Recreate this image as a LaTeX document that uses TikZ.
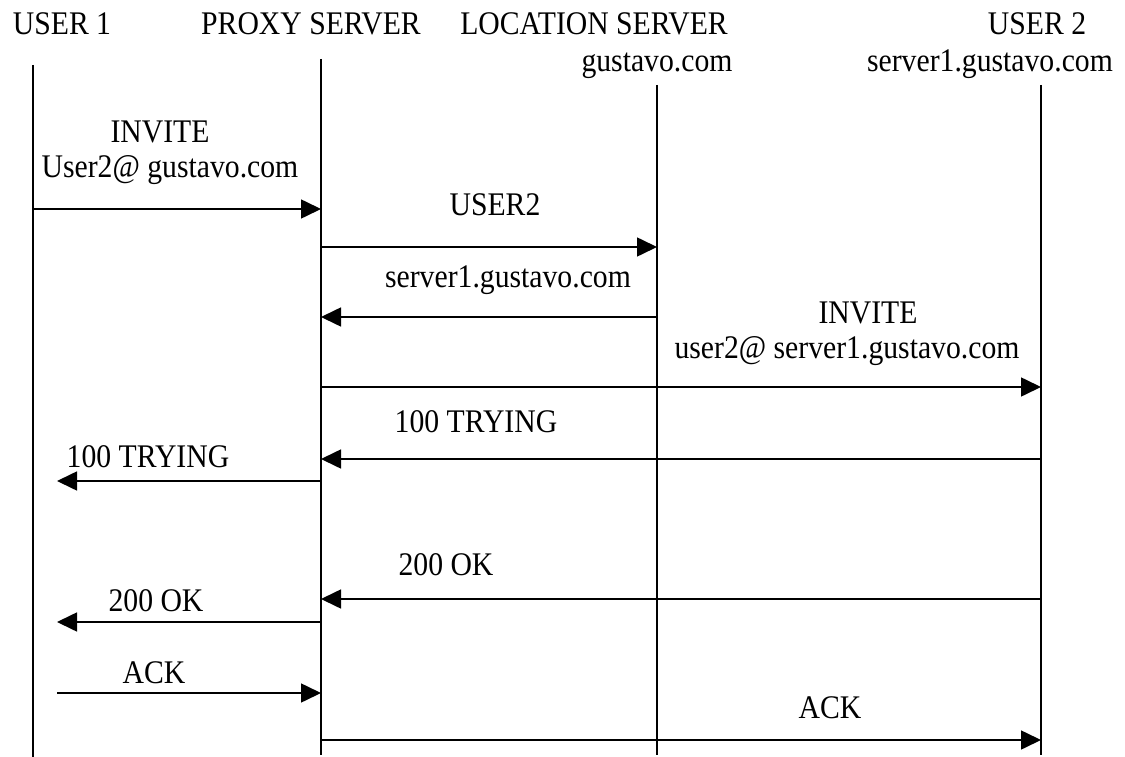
\documentclass[tikz,border=0pt]{standalone}
\usepackage{fontspec}
\setmainfont{Liberation Serif}[FakeStretch=0.9]
\usetikzlibrary{arrows.meta}

\tikzset{
  lifeline/.style={line width=1.6pt},
  msg/.style={line width=1.6pt, -{Triangle[length=20pt,width=19pt]}},
  lbl/.style={anchor=base, inner sep=0pt, font=\fontsize{33}{36}\selectfont},
}

\begin{document}
\begin{tikzpicture}[x=1pt,y=-1pt]
\useasboundingbox (0,0) rectangle (1125,757);

% participants
\node[lbl] (h1) at (62,35) {USER 1};
\node[lbl] (h2) at (311,35) {PROXY SERVER};
\node[lbl] (h3) at (594,35) {LOCATION SERVER};
\node[lbl] (h3b) at (657,72) {gustavo.com};
\node[lbl] (h4) at (1037,35) {USER 2};
\node[lbl] (h4b) at (990,72) {server1.gustavo.com};

% lifelines
\coordinate (u1t) at (33,65);   \coordinate (u1b) at (33,757);
\coordinate (pxt) at (321,59);  \coordinate (pxb) at (321,755);
\coordinate (lst) at (657,85);  \coordinate (lsb) at (657,755);
\coordinate (u2t) at (1041,85); \coordinate (u2b) at (1041,755);
\draw[lifeline] (u1t) -- (u1b);
\draw[lifeline] (pxt) -- (pxb);
\draw[lifeline] (lst) -- (lsb);
\draw[lifeline] (u2t) -- (u2b);

% message end points
\coordinate (m1a) at (33,209);   \coordinate (m1b) at (321,209);
\coordinate (m2a) at (321,247);  \coordinate (m2b) at (657,247);
\coordinate (m3a) at (657,317);  \coordinate (m3b) at (321,317);
\coordinate (m4a) at (321,387);  \coordinate (m4b) at (1041,387);
\coordinate (m5a) at (1041,459); \coordinate (m5b) at (321,459);
\coordinate (m6a) at (321,481);  \coordinate (m6b) at (57,481);
\coordinate (m7a) at (1041,599); \coordinate (m7b) at (321,599);
\coordinate (m8a) at (321,622);  \coordinate (m8b) at (57,622);
\coordinate (m9a) at (57,693);   \coordinate (m9b) at (321,693);
\coordinate (m10a) at (321,740); \coordinate (m10b) at (1041,740);

% messages
\draw[msg] (m1a) -- (m1b);
\draw[msg] (m2a) -- (m2b);
\draw[msg] (m3a) -- (m3b);
\draw[msg] (m4a) -- (m4b);
\draw[msg] (m5a) -- (m5b);
\draw[msg] (m6a) -- (m6b);
\draw[msg] (m7a) -- (m7b);
\draw[msg] (m8a) -- (m8b);
\draw[msg] (m9a) -- (m9b);
\draw[msg] (m10a) -- (m10b);

% message labels
\node[lbl] (l1a) at (160,143) {INVITE};
\node[lbl] (l1b) at (170,178) {User2@ gustavo.com};
\node[lbl] (l2) at (495,215) {USER2};
\node[lbl] (l3) at (508,287) {server1.gustavo.com};
\node[lbl] (l4a) at (868,323) {INVITE};
\node[lbl] (l4b) at (847,358) {user2@ server1.gustavo.com};
\node[lbl] (l5) at (476,432) {100 TRYING};
\node[lbl] (l6) at (148,467) {100 TRYING};
\node[lbl] (l7) at (446,575) {200 OK};
\node[lbl] (l8) at (156,611) {200 OK};
\node[lbl] (l9) at (154,683) {ACK};
\node[lbl] (l10) at (830,718) {ACK};
\end{tikzpicture}
\end{document}
